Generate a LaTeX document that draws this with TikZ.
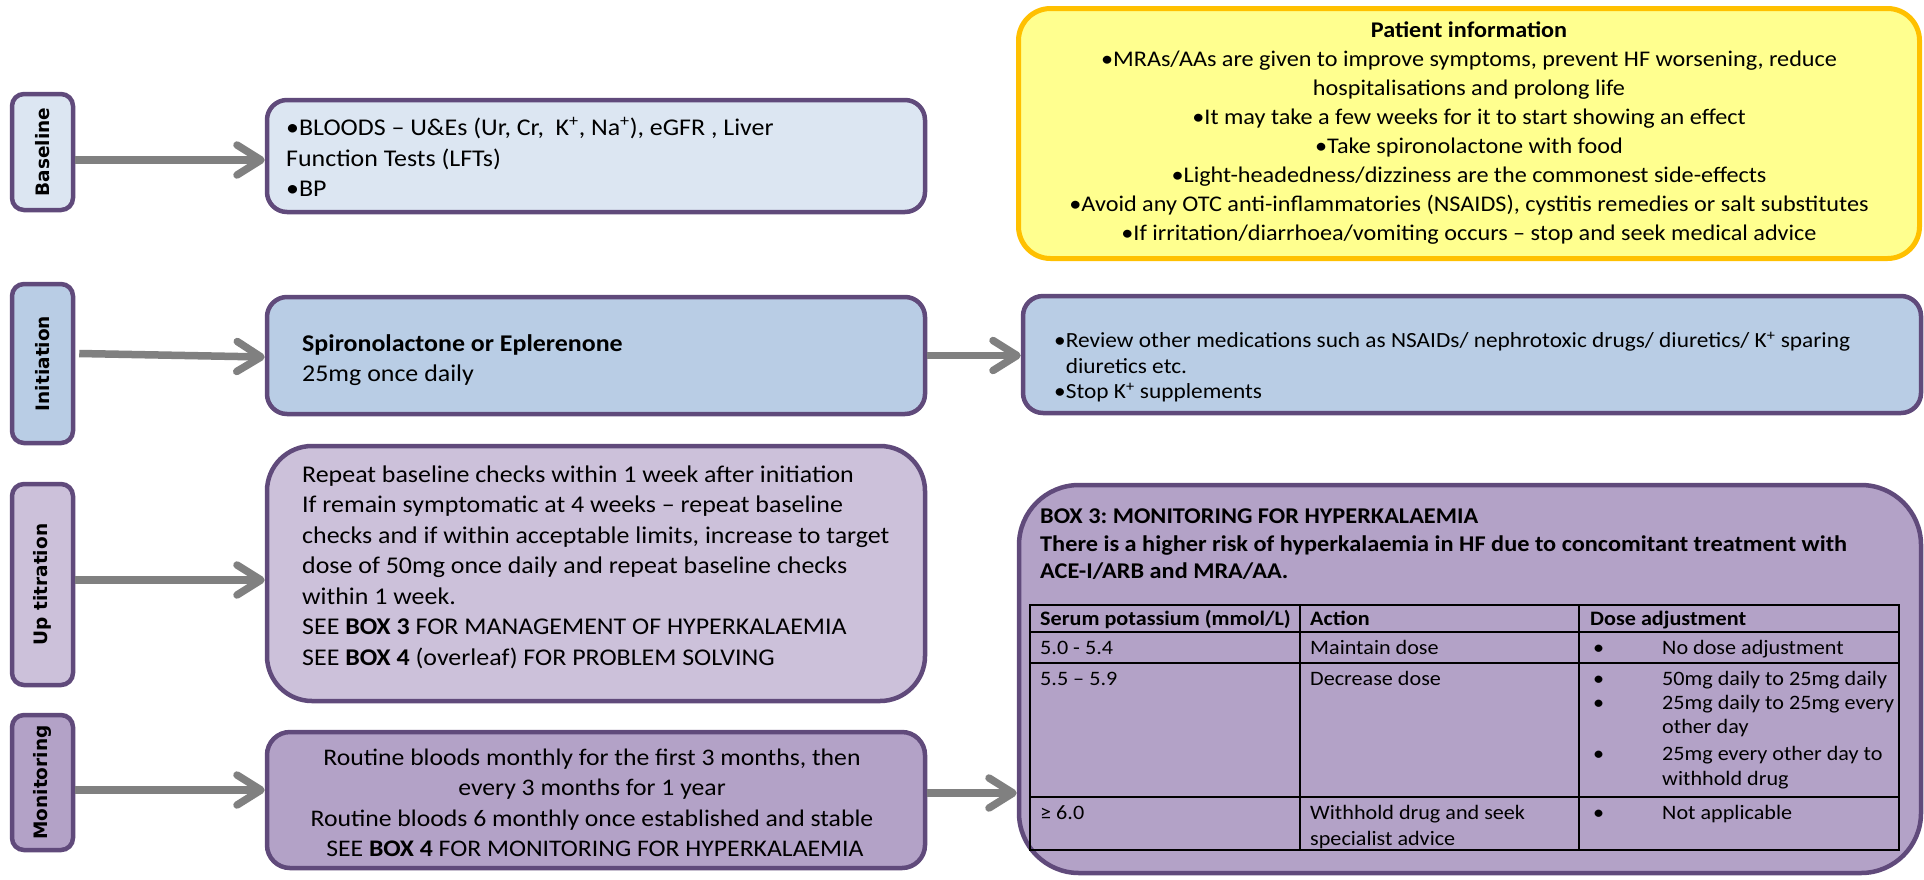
\documentclass[tikz,border=0pt]{standalone}
\usepackage{fontspec}
\setmainfont{Carlito}[FakeStretch=1.08]
\newfontfamily\labfont{DejaVu Sans}
\usetikzlibrary{arrows.meta,calc}
\definecolor{edge}{HTML}{604A7B}
\definecolor{fillA}{HTML}{DCE6F2}
\definecolor{fillB}{HTML}{B9CDE5}
\definecolor{fillC}{HTML}{CCC1DA}
\definecolor{fillD}{HTML}{B3A2C7}
\definecolor{infofill}{HTML}{FFFF8F}
\definecolor{infoedge}{HTML}{FFC000}
\definecolor{arrowgray}{HTML}{808080}
\newcommand{\kp}{K\textsuperscript{+}}
\frenchspacing

\begin{document}
\begin{tikzpicture}[x=1pt,y=-1pt,
  stagebox/.style={draw=edge,line width=4.5pt,rounded corners=12pt,inner sep=0pt,
    minimum width=61pt},
  panel/.style={draw=edge,line width=4.5pt,inner sep=0pt},
  stagetext/.style={font=\labfont\bfseries\fontsize{18.5}{22}\selectfont,rotate=90,inner sep=0pt},
  body/.style={font=\fontsize{24}{30.5}\selectfont,inner sep=0pt},
  info/.style={font=\fontsize{22.4}{29}\selectfont,inner sep=0pt,align=center},
  cell/.style={font=\fontsize{20.5}{25}\selectfont,inner sep=0pt,anchor=base west},
  headcell/.style={cell,font=\bfseries\fontsize{20.5}{25}\selectfont},
  arr/.style={draw=arrowgray,line width=7.5pt,-{Straight Barb[length=24pt,width=30pt,round]}},
  grid/.style={line width=2.5pt,black}
]
\path[use as bounding box] (0,0) rectangle (1924,879);

% stage labels
\node[stagebox,fill=fillA,minimum height=116pt] (baselab) at (42.5,152) {};
\node[stagetext] (baselabt) at (baselab.center) {Baseline};
\node[stagebox,fill=fillB,minimum height=159pt] (initlab) at (42.5,363.5) {};
\node[stagetext] (initlabt) at (initlab.center) {Initiation};
\node[stagebox,fill=fillC,minimum height=201pt] (uplab) at (42.5,584.5) {};
\node[stagetext] (uplabt) at (uplab.center) {Up titration};
\node[stagebox,fill=fillD,minimum height=135pt] (monlab) at (42.5,782.5) {};
\node[stagetext] (monlabt) at (monlab.center) {Monitoring};

% main column
\node[panel,fill=fillA,rounded corners=20pt,minimum width=658pt,minimum height=112pt] (basebox) at (596,156) {};
\node[body,anchor=west,align=left] (basetext) at (286,157)
  {•BLOODS – U\&Es (Ur, Cr,\ \ \kp, Na\textsuperscript{+}), eGFR , Liver\\Function Tests (LFTs)\\•BP};

\node[panel,fill=fillB,rounded corners=20pt,minimum width=658pt,minimum height=117pt] (initbox) at (596,355.5) {};
\node[body,anchor=west,align=left] (inittext) at (302,360)
  {\textbf{Spironolactone or Eplerenone}\\25mg once daily};

\node[panel,fill=fillC,rounded corners=45pt,minimum width=658pt,minimum height=255pt] (upbox) at (596,573.5) {};
\node[body,anchor=west,align=left] (uptext) at (302,567)
  {Repeat baseline checks within 1 week after initiation\\
   If remain symptomatic at 4 weeks – repeat baseline\\
   checks and if within acceptable limits, increase to target\\
   dose of 50mg once daily and repeat baseline checks\\
   within 1 week.\\
   SEE \textbf{BOX 3} FOR MANAGEMENT OF HYPERKALAEMIA\\
   SEE \textbf{BOX 4} (overleaf) FOR PROBLEM SOLVING};

\node[panel,fill=fillD,rounded corners=23pt,minimum width=658pt,minimum height=136pt] (monbox) at (596,800) {};
\node[body,align=center,font=\fontsize{23.8}{30.5}\selectfont] (montext) at (592,803)
  {Routine bloods monthly for the first 3 months, then\\
   every 3 months for 1 year\\
   Routine bloods 6 monthly once established and stable\\
   \ SEE \textbf{BOX 4} FOR MONITORING FOR HYPERKALAEMIA};

% right column
\node[draw=infoedge,fill=infofill,line width=5pt,rounded corners=32pt,inner sep=0pt,
  minimum width=901pt,minimum height=250pt] (infobox) at (1469,133.5) {};
\node[info] (infotext) at (1469,133.5)
  {\textbf{Patient information}\\
   •MRAs/AAs are given to improve symptoms, prevent HF worsening, reduce\\
   hospitalisations and prolong life\\
   •It may take a few weeks for it to start showing an effect\\
   •Take spironolactone with food\\
   •Light-headedness/dizziness are the commonest side-effects\\
   •Avoid any OTC anti-inflammatories (NSAIDS), cystitis remedies or salt substitutes\\
   •If irritation/diarrhoea/vomiting occurs – stop and seek medical advice};

\node[panel,fill=fillB,rounded corners=20pt,minimum width=898pt,minimum height=117pt] (review) at (1472,354.5) {};
\node[inner sep=0pt,font=\fontsize{21.6}{25.5}\selectfont,anchor=west,align=left] (reviewtext) at (1054,367)
  {•Review other medications such as NSAIDs/ nephrotoxic drugs/ diuretics/ \kp\ sparing\\
   \phantom{•}diuretics etc.\\
   •Stop \kp\ supplements};

\node[panel,fill=fillD,rounded corners=60pt,minimum width=902pt,minimum height=388pt] (box3) at (1470,679) {};
\node[inner sep=0pt,font=\bfseries\fontsize{22.5}{27.5}\selectfont,anchor=west,align=left] (box3text) at (1040,544.5)
  {BOX 3: MONITORING FOR HYPERKALAEMIA\\
   There is a higher risk of hyperkalaemia in HF due to concomitant treatment with\\
   ACE-I/ARB and MRA/AA.};

% potassium table
\draw[grid] (1030,605) rectangle (1899,850);
\draw[grid] (1300,605) -- (1300,850) (1579,605) -- (1579,850);
\draw[grid] (1030,632) -- (1899,632) (1030,663) -- (1899,663) (1030,797) -- (1899,797);

\node[headcell] (h1) at (1040,625) {Serum potassium (mmol/L)};
\node[headcell] (h2) at (1310,625) {Action};
\node[headcell] (h3) at (1590,625) {Dose adjustment};

\node[cell] (r1a) at (1040,654) {5.0 - 5.4};
\node[cell] (r1b) at (1310,654) {Maintain dose};
\node[cell] (r1c) at (1593,654) {•};
\node[cell] (r1d) at (1662,654) {No dose adjustment};

\node[cell] (r2a) at (1040,685) {5.5 – 5.9};
\node[cell] (r2b) at (1310,685) {Decrease dose};
\node[cell] (r2c) at (1593,685) {•};
\node[cell] (r2d) at (1662,685) {50mg daily to 25mg daily};
\node[cell] (r2e) at (1593,709) {•};
\node[cell] (r2f) at (1662,709) {25mg daily to 25mg every};
\node[cell] (r2g) at (1662,733) {other day};
\node[cell] (r2h) at (1593,760) {•};
\node[cell] (r2i) at (1662,760) {25mg every other day to};
\node[cell] (r2j) at (1662,785) {withhold drug};

\node[cell] (r3a) at (1040,819) {≥ 6.0};
\node[cell] (r3b) at (1310,819) {Withhold drug and seek};
\node[cell] (r3c) at (1310,845) {specialist advice};
\node[cell] (r3d) at (1593,819) {•};
\node[cell] (r3e) at (1662,819) {Not applicable};

% connectors
\coordinate (b1) at ($(baselab.east)+(0,8)$);
\draw[arr] (b1) -- (b1 -| basebox.west);
\draw[arr] ($(initlab.east)+(4,-10)$) -- ($(initbox.west)+(0,1.5)$);
\coordinate (u1) at ($(uplab.east)+(0,-4.5)$);
\draw[arr] (u1) -- (u1 -| upbox.west);
\coordinate (m1) at ($(monlab.east)+(0,7.5)$);
\draw[arr] (m1) -- (m1 -| monbox.west);
\draw[arr] (initbox.east) -- (initbox.east -| review.west);
\coordinate (m2) at ($(monbox.east)+(0,-7)$);
\draw[arr] (m2) -- (m2 -| box3.west);
\end{tikzpicture}
\end{document}
